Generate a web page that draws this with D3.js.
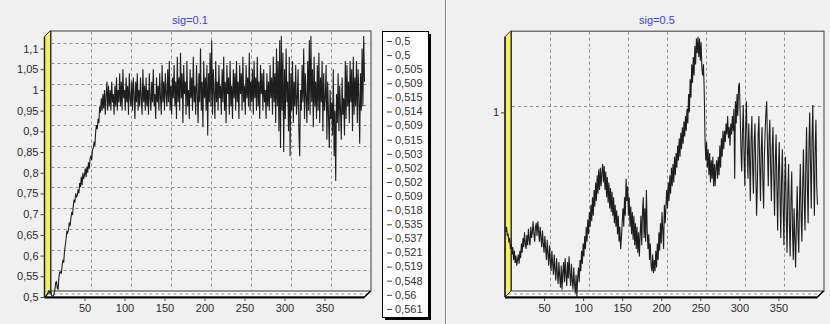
<!DOCTYPE html>
<html><head><meta charset="utf-8">
<script src="https://cdn.jsdelivr.net/npm/d3@7"></script>
<style>body{margin:0;background:#f0f0f0;overflow:hidden}svg{display:block}</style>
</head><body>
<svg id="c" width="830" height="324"></svg>
<script>
// ---------- data ----------
const xTicks = [50, 100, 150, 200, 250, 300, 350];
const leftYTicks = [0.5, 0.55, 0.6, 0.65, 0.7, 0.75, 0.8, 0.85, 0.9, 0.95, 1, 1.05, 1.1];
const rightYTicks = [1];
const leftTitle = "sig=0.1";
const rightTitle = "sig=0.5";
const leftValues = [
0.5,0.5,0.505,0.509,0.515,0.514,0.509,0.515,0.503,0.502,0.502,0.509,0.518,0.535,0.537,0.521,0.519,0.548,0.56,0.561,
0.556,0.575,0.59,0.583,0.61,0.625,0.64,0.66,0.655,0.662,0.68,0.672,0.69,0.705,0.698,0.72,0.735,0.728,0.75,0.742,
0.745,0.76,0.75,0.775,0.765,0.79,0.77,0.8,0.785,0.795,0.81,0.79,0.815,0.8,0.825,0.81,0.835,0.84,0.83,0.855,
0.86,0.875,0.865,0.9,0.915,0.905,0.93,0.92,0.96,0.945,0.98,0.95,0.99,0.955,1.0,0.94,0.985,1.02,0.95,1.01,
0.96,1.0,0.95,1.02,0.97,0.99,0.94,1.01,0.96,1.03,0.95,1.0,0.97,1.04,0.96,1.02,0.95,1.05,0.98,1.0,
0.95,1.03,0.97,1.01,0.94,1.04,0.98,0.96,1.02,0.95,1.03,0.99,0.93,1.02,0.97,1.04,0.95,1.0,0.96,1.03,
0.98,0.94,1.05,0.97,1.01,0.95,1.03,0.96,1.0,0.94,1.04,0.98,0.95,1.02,0.97,1.05,0.96,0.99,0.93,1.03,
0.97,1.01,0.95,1.04,0.98,0.94,1.06,0.97,1.02,0.95,1.04,0.99,0.96,1.05,0.97,1.07,0.95,1.01,0.94,1.03,
0.98,1.06,0.96,1.02,0.93,1.08,0.97,1.03,0.95,1.09,0.98,1.04,0.92,1.06,0.99,1.02,0.94,1.07,0.96,1.0,
0.93,1.05,0.98,1.03,0.95,1.08,0.97,1.01,0.94,1.06,0.99,0.92,1.04,0.97,1.1,0.95,1.02,0.91,1.07,0.98,
1.03,0.95,1.06,0.89,1.04,0.97,1.09,0.96,1.12,0.94,1.05,0.99,0.93,1.07,0.97,1.02,0.95,1.06,0.98,1.01,
0.94,1.05,0.97,1.08,0.95,1.02,0.92,1.06,0.99,1.03,0.94,1.07,0.96,1.01,0.93,1.05,0.98,1.04,0.95,1.07,
0.97,1.02,0.93,1.06,0.99,1.04,0.95,1.08,0.97,1.01,0.94,1.06,0.98,1.03,0.96,1.09,0.95,1.02,0.97,1.05,
0.94,1.07,0.98,1.03,0.95,1.08,0.96,1.02,0.93,1.06,0.99,1.04,0.95,1.05,0.97,1.0,0.93,1.04,0.96,1.02,
0.95,1.06,0.98,1.03,0.94,1.08,0.97,1.04,0.92,1.1,0.96,1.07,0.9,1.12,0.86,1.13,0.95,1.09,0.85,1.05,
0.93,1.1,0.97,1.02,0.9,1.08,0.84,1.04,0.95,1.07,0.92,1.02,0.96,1.06,0.94,0.98,1.05,0.9,0.84,1.0,
0.95,1.06,0.97,1.1,0.93,1.04,0.98,0.92,1.07,0.95,1.12,0.94,1.13,0.97,1.05,0.91,1.08,0.96,1.02,0.93,
1.06,0.95,1.09,0.92,1.03,0.97,1.07,0.9,1.04,0.95,0.98,1.06,0.88,1.02,0.94,0.86,1.0,0.93,0.97,0.89,
1.05,0.84,0.95,0.78,0.99,0.92,1.04,0.9,1.01,0.95,0.88,1.03,0.94,0.98,0.89,1.07,0.93,1.06,0.96,1.02,
0.92,1.07,0.97,1.05,0.9,1.08,0.94,1.03,0.96,1.07,0.92,1.05,0.98,0.87,1.04,0.95,1.1,0.96,1.13,1.02
];
const rightValues = [
0.676,0.69,0.665,0.672,0.648,0.66,0.63,0.645,0.615,0.635,0.6,0.625,0.592,0.612,0.585,0.6,0.615,0.59,0.625,0.605,
0.645,0.62,0.66,0.635,0.675,0.645,0.63,0.668,0.64,0.685,0.655,0.64,0.69,0.66,0.675,0.705,0.67,0.65,0.69,0.7,
0.665,0.705,0.68,0.65,0.69,0.66,0.635,0.68,0.645,0.62,0.665,0.63,0.6,0.655,0.615,0.585,0.64,0.6,0.57,0.625,
0.59,0.56,0.615,0.575,0.545,0.605,0.565,0.535,0.595,0.555,0.525,0.585,0.52,0.565,0.595,0.54,0.605,0.56,0.53,0.595,
0.55,0.61,0.565,0.53,0.59,0.545,0.52,0.58,0.535,0.51,0.56,0.5,0.55,0.58,0.54,0.6,0.57,0.625,0.59,0.645,
0.61,0.665,0.63,0.69,0.65,0.71,0.67,0.73,0.69,0.75,0.705,0.77,0.72,0.79,0.745,0.81,0.76,0.83,0.78,0.845,
0.79,0.85,0.8,0.835,0.86,0.81,0.855,0.79,0.84,0.77,0.825,0.755,0.81,0.74,0.795,0.73,0.785,0.72,0.77,0.7,
0.75,0.69,0.735,0.67,0.72,0.65,0.69,0.63,0.66,0.7,0.74,0.69,0.77,0.72,0.82,0.76,0.8,0.72,0.77,0.69,
0.745,0.67,0.73,0.655,0.72,0.64,0.7,0.63,0.69,0.62,0.675,0.61,0.67,0.72,0.64,0.73,0.77,0.66,0.74,0.65,
0.79,0.68,0.63,0.67,0.6,0.645,0.585,0.57,0.615,0.565,0.6,0.57,0.625,0.58,0.645,0.6,0.675,0.625,0.7,0.645,
0.73,0.68,0.63,0.75,0.7,0.745,0.79,0.74,0.81,0.76,0.83,0.78,0.85,0.8,0.86,0.81,0.88,0.83,0.89,0.85,
0.91,0.87,0.93,0.88,0.945,0.9,0.96,0.915,0.975,0.935,0.99,0.95,1.01,0.97,1.05,1.0,1.09,1.04,1.13,1.08,
1.15,1.1,1.18,1.13,1.2,1.16,1.205,1.15,1.2,1.14,1.19,1.12,1.1,1.13,1.06,0.93,0.87,0.92,0.85,0.9,
0.83,0.89,0.81,0.87,0.82,0.88,0.8,0.86,0.8,0.85,0.87,0.82,0.88,0.83,0.91,0.85,0.93,0.88,0.95,0.9,
0.95,0.92,0.97,0.94,0.99,0.93,0.96,0.91,0.97,0.94,0.99,0.95,1.01,0.82,1.03,0.97,1.05,0.99,1.07,1.08,
1.0,0.9,0.84,0.95,1.02,0.88,0.8,0.96,1.03,0.9,0.82,0.97,0.88,0.76,0.93,0.99,0.85,0.78,0.92,0.97,
0.84,0.72,0.8,0.94,0.99,0.86,0.76,0.9,0.96,0.82,0.74,0.88,0.95,1.0,1.03,0.9,0.8,0.93,0.98,0.85,
0.76,0.9,0.96,0.83,0.72,0.87,0.94,0.8,0.68,0.84,0.92,0.78,0.66,0.82,0.9,0.75,0.64,0.8,0.88,0.72,
0.62,0.78,0.86,0.7,0.61,0.76,0.84,0.68,0.6,0.74,0.66,0.58,0.7,0.8,0.68,0.62,0.76,0.86,0.72,0.65,
0.8,0.9,0.76,0.68,0.85,0.96,0.8,0.7,0.9,1.0,0.86,0.74,0.93,1.02,0.85,0.72,0.9,0.98,0.8,0.75
];
const legendValues = leftValues.slice(0, 20);

// ---------- rendering ----------
const loc = d3.formatLocale({decimal: ",", thousands: ".", grouping: [3], currency: ["", ""]});
const fmt = loc.format(".3~f");
const FONT = "'Liberation Sans', Arial, sans-serif";
const svg = d3.select("#c");

svg.append("rect").attr("width", 830).attr("height", 324).attr("fill", "#f0f0f0");
// splitter between the two charts
svg.append("line").attr("x1", 445.5).attr("x2", 445.5).attr("y1", 0).attr("y2", 324).attr("stroke", "#8a8a8a");
svg.append("line").attr("x1", 446.5).attr("x2", 446.5).attr("y1", 0).attr("y2", 324).attr("stroke", "#ffffff");

function panel(cfg) {
  const D = 6; // 3D depth
  const xs = d3.scaleLinear().domain([0, 400]).range(cfg.xRange);
  const ys = d3.scaleLinear().domain(cfg.yDomain).range(cfg.yRange);
  const [x0, x1] = xs.range();
  const [yb, yt] = ys.range();
  const g = svg.append("g");

  // back wall
  g.append("rect").attr("x", x0 + D + 0.5).attr("y", yt - D + 0.5)
    .attr("width", x1 - x0).attr("height", yb - yt)
    .attr("fill", "#f1f1f1").attr("stroke", "#3a3a3a").attr("stroke-width", 1);

  // floor
  g.append("path")
    .attr("d", `M${x0},${yb} L${x0 + D},${yb - D} L${x1 + D},${yb - D} L${x1},${yb} Z`)
    .attr("fill", "#fbfbfb").attr("stroke", "#3a3a3a").attr("stroke-width", 1);

  // grid on back wall
  const grid = g.append("g").attr("stroke", "#8e8e8e").attr("stroke-dasharray", "3,3").attr("stroke-width", 1);
  cfg.yTicks.forEach(t => {
    const y = Math.round(ys(t) - D) + 0.5;
    grid.append("line").attr("x1", x0 + D + 1).attr("x2", x1 + D).attr("y1", y).attr("y2", y);
  });
  xTicks.forEach(t => {
    const x = Math.round(xs(t) + D) + 0.5;
    grid.append("line").attr("x1", x).attr("x2", x).attr("y1", yt - D + 1).attr("y2", yb - D);
  });
  g.append("line").attr("x1", x0 + D / 2).attr("x2", x1 + D / 2).attr("y1", yb - D / 2).attr("y2", yb - D / 2)
    .attr("stroke", "#8e8e8e").attr("stroke-dasharray", "3,3");

  // left wall (yellow)
  g.append("path")
    .attr("d", `M${x0},${yt} L${x0 + D},${yt - D} L${x0 + D},${yb - D} L${x0},${yb} Z`)
    .attr("fill", "#f3f062").attr("stroke", "#333").attr("stroke-width", 1);
  g.append("line").attr("x1", x0).attr("x2", x0).attr("y1", yt).attr("y2", yb)
    .attr("stroke", "#222").attr("stroke-width", 1.5);

  // front bottom edge
  g.append("line").attr("x1", x0).attr("x2", x1).attr("y1", yb + 0.5).attr("y2", yb + 0.5)
    .attr("stroke", "#000").attr("stroke-width", 2);
  g.append("line").attr("x1", x1).attr("x2", x1 + D).attr("y1", yb).attr("y2", yb - D)
    .attr("stroke", "#000").attr("stroke-width", 1.5);

  // series line
  const line = d3.line().x((d, i) => xs(i + 1)).y(d => ys(d));
  g.append("path").datum(cfg.values).attr("d", line)
    .attr("fill", "none").attr("stroke", "#1e1e1e").attr("stroke-width", 1.1).attr("stroke-linejoin", "miter");

  // axes
  const ya = g.append("g").attr("transform", `translate(${x0},0)`)
    .call(d3.axisLeft(ys).tickValues(cfg.yTicks).tickSize(4).tickPadding(2).tickFormat(v => loc.format("~g")(v)));
  const xa = g.append("g").attr("transform", `translate(0,${yb + 1})`)
    .call(d3.axisBottom(xs).tickValues(xTicks).tickSize(3).tickPadding(3).tickFormat(d3.format("d")));
  [ya, xa].forEach(a => {
    a.select(".domain").remove();
    a.selectAll("line").attr("stroke", "#444");
    a.selectAll("text").attr("font-family", FONT).attr("font-size", 11).attr("fill", "#2a2a2a");
  });

  // title
  g.append("text").attr("x", cfg.titleX).attr("y", 24).attr("text-anchor", "middle")
    .attr("font-family", FONT).attr("font-size", 11).attr("fill", "#3d3df2").text(cfg.title);
}

panel({values: leftValues, yDomain: [0.5, 1.129], yTicks: leftYTicks,
       xRange: [44.5, 364.5], yRange: [297, 36.5], title: leftTitle, titleX: 190});
panel({values: rightValues, yDomain: [0.5, 1.205], yTicks: rightYTicks,
       xRange: [505, 817.5], yRange: [297, 36.7], title: rightTitle, titleX: 657});

// legend (values of the left series)
const lg = svg.append("g");
const LX = 382, LY = 31, LW = 46, LH = 286;
lg.append("rect").attr("x", LX + 3).attr("y", LY + 3).attr("width", LW).attr("height", LH).attr("fill", "#000");
lg.append("rect").attr("x", LX + 0.5).attr("y", LY + 0.5).attr("width", LW).attr("height", LH)
  .attr("fill", "#fff").attr("stroke", "#000");
legendValues.forEach((v, i) => {
  const y = 41 + i * 14.1;
  lg.append("line").attr("x1", 387).attr("x2", 392).attr("y1", y + 0.5).attr("y2", y + 0.5)
    .attr("stroke", "#444").attr("stroke-width", 1);
  lg.append("text").attr("x", 395).attr("y", y).attr("dy", "0.35em")
    .attr("font-family", FONT).attr("font-size", 11).attr("fill", "#333").text(fmt(v));
});
</script>
</body></html>
